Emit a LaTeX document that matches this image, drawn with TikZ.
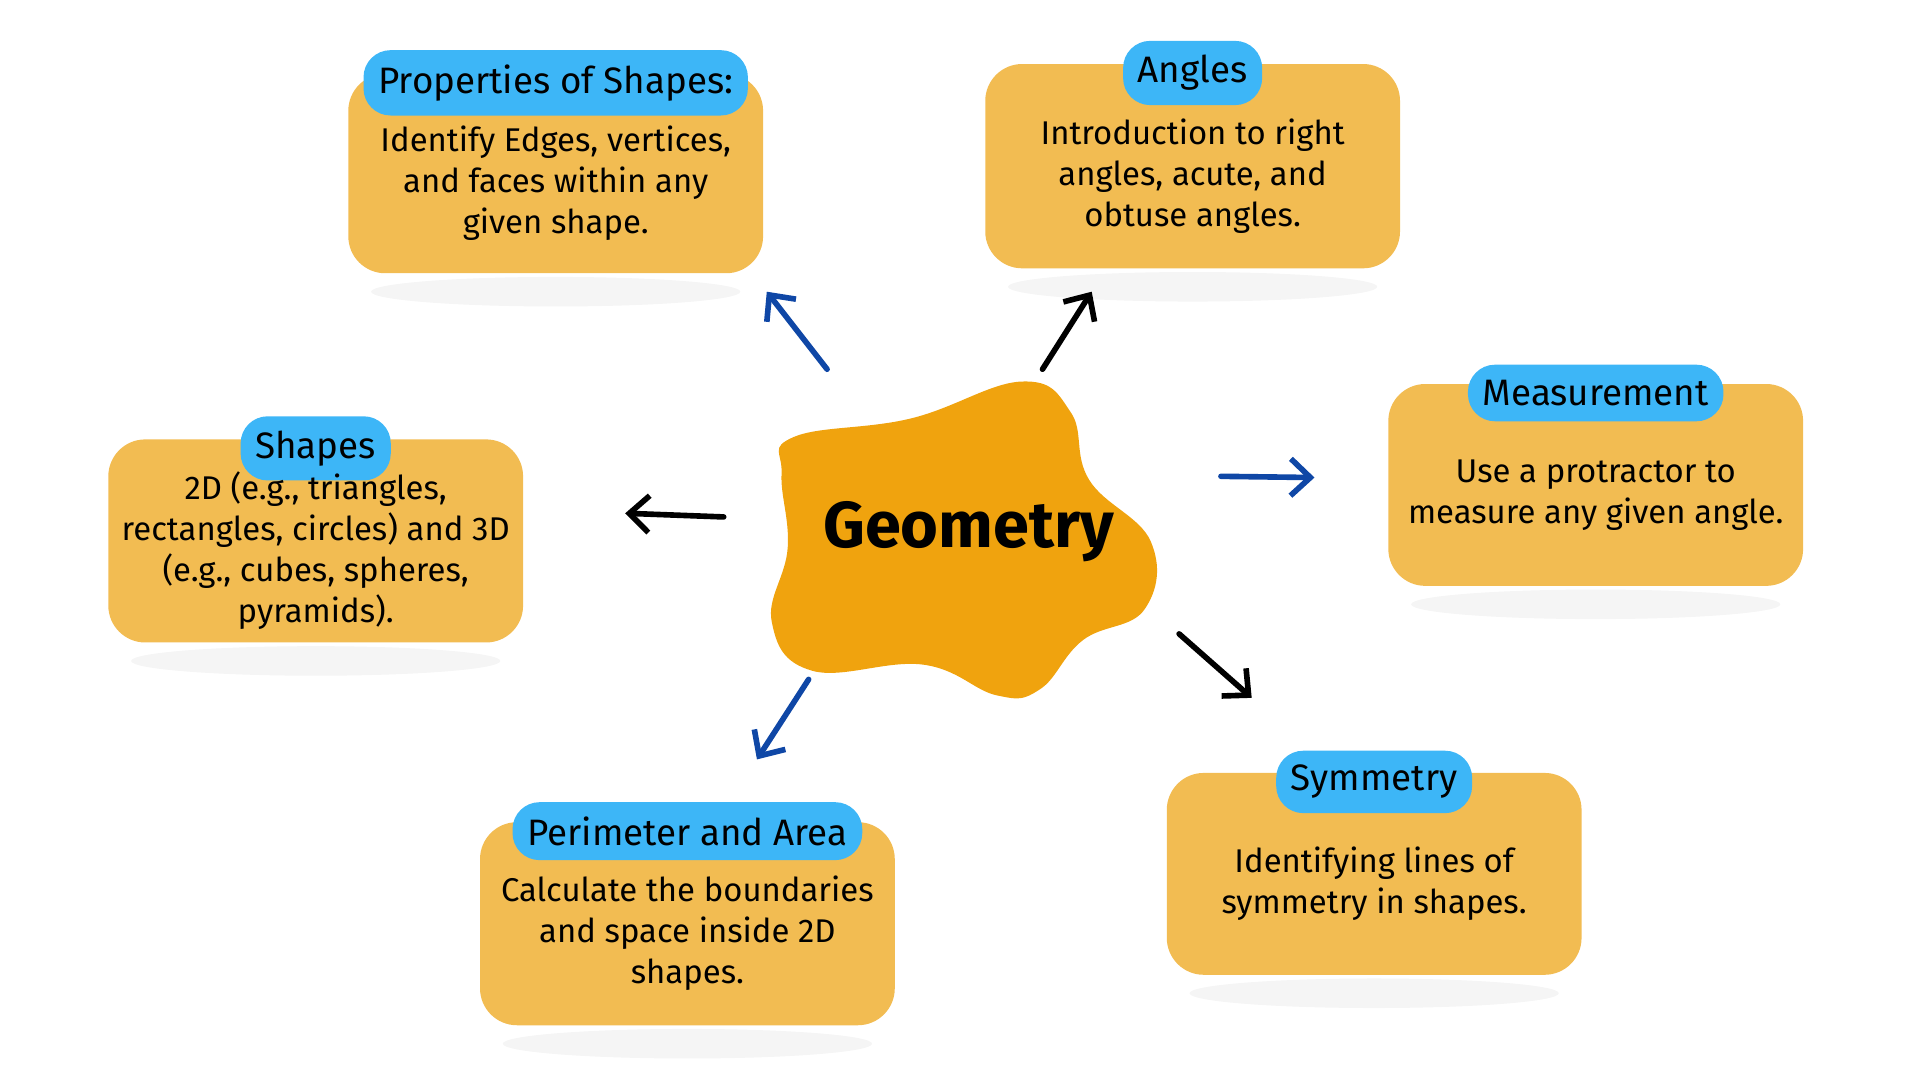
\documentclass[tikz,border=0pt]{standalone}
\usepackage{fontspec}
\setmainfont{Fira Sans}
\usetikzlibrary{arrows.meta}
\tikzset{>=latex}
\definecolor{boxcol}{HTML}{F2BC52}
\definecolor{tagcol}{HTML}{3DB6F7}
\definecolor{blobcol}{HTML}{F0A30E}
\definecolor{bluecol}{HTML}{0F47A6}
\tikzstyle{topic box}=[fill=boxcol,rounded corners=0.3cm,minimum width=3.37cm,inner sep=0pt]
\tikzstyle{tag}=[fill=tagcol,rounded corners=0.22cm,minimum height=0.46cm,inner xsep=0.12cm,font=\fontsize{8.5}{10}\selectfont]
\tikzstyle{body}=[align=center,font=\fontsize{7.6}{9.5}\selectfont]
\tikzstyle{arr}=[line width=1.3pt,line cap=round,-{Straight Barb[length=1.6mm,width=3mm]}]

\begin{document}
\begin{tikzpicture}
    \useasboundingbox (0,0) rectangle (15.6,-8.8);

    % topic boxes: name / centre / height / tag / text
    \foreach \nm/\x/\y/\h/\t/\tw/\txt in {
        props/4.515/-1.41/1.62/Properties of Shapes:/2.85/{Identify Edges, vertices,\\and faces within any\\given shape.},
        angles/9.69/-1.35/1.66/Angles/1.0/{Introduction to right\\angles, acute, and\\obtuse angles.},
        meas/12.965/-3.94/1.64/Measurement/1.85/{Use a protractor to\\measure any given angle.},
        shapes/2.565/-4.395/1.65/Shapes/1.0/{2D (e.g., triangles,\\rectangles, circles) and 3D\\(e.g., cubes, spheres,\\pyramids).},
        perim/5.585/-7.505/1.65/Perimeter and Area/2.7/{Calculate the boundaries\\and space inside 2D\\shapes.},
        sym/11.165/-7.10/1.64/Symmetry/1.38/{Identifying lines of\\symmetry in shapes.}}{
      \fill[gray!8] (\x,\y-\h/2-0.15) ellipse (1.5 and 0.12);
      \node[topic box,minimum height=\h cm] (\nm) at (\x,\y) {};
      \node[tag,minimum width=\tw cm] (\nm-tag) at ([yshift=-0.08cm]\nm.north) {\t};
      \node[body] (\nm-txt) at ([yshift=-0.08cm]\nm.center) {\txt};
    }

    % centre blob
    \fill[blobcol] plot[smooth cycle,tension=0.7] coordinates {
        (6.45,-3.55) (7.4,-3.4) (8.3,-3.1) (8.7,-3.35) (8.85,-3.9)
        (9.35,-4.4) (9.3,-4.95) (8.8,-5.2) (8.45,-5.6) (8.1,-5.65)
        (7.5,-5.4) (6.6,-5.45) (6.27,-5.05) (6.4,-4.45) (6.35,-3.85)};
    \node[font=\bfseries\fontsize{15}{18}\selectfont] (geo) at (7.87,-4.32) {Geometry};

    % arrows
    \coordinate (a1s) at (6.72,-3.0);  \coordinate (a1e) at (6.23,-2.37);
    \coordinate (a2s) at (8.47,-3.0);  \coordinate (a2e) at (8.87,-2.37);
    \coordinate (a3s) at (9.92,-3.87); \coordinate (a3e) at (10.68,-3.88);
    \coordinate (a4s) at (5.88,-4.2);  \coordinate (a4e) at (5.08,-4.17);
    \coordinate (a5s) at (6.57,-5.52); \coordinate (a5e) at (6.15,-6.17);
    \coordinate (a6s) at (9.58,-5.15); \coordinate (a6e) at (10.17,-5.67);
    \draw[arr,bluecol] (a1s) -- (a1e);
    \draw[arr,black] (a2s) -- (a2e);
    \draw[arr,bluecol] (a3s) -- (a3e);
    \draw[arr,black] (a4s) -- (a4e);
    \draw[arr,bluecol] (a5s) -- (a5e);
    \draw[arr,black] (a6s) -- (a6e);
\end{tikzpicture}
\end{document}
